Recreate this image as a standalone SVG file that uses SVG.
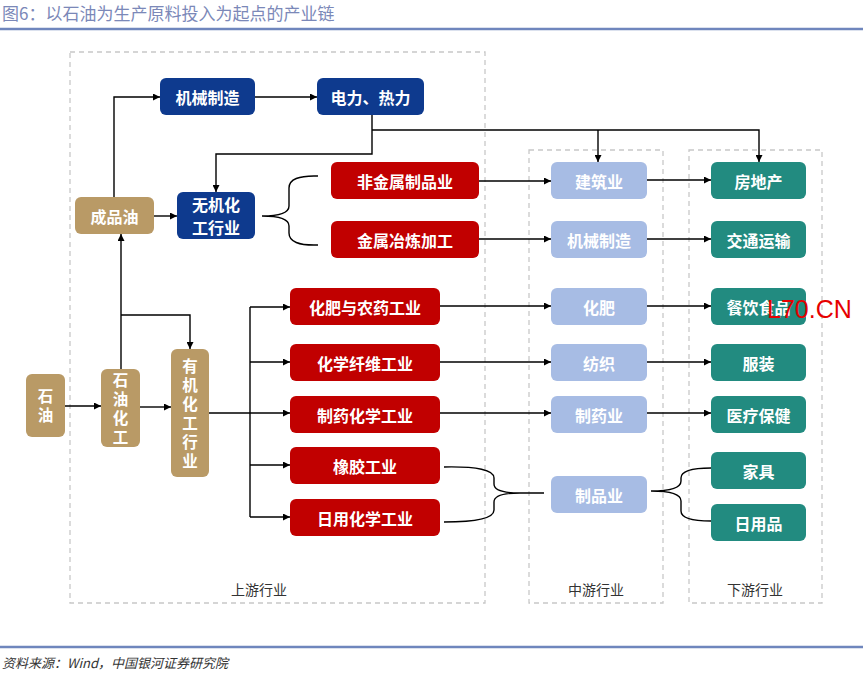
<svg xmlns="http://www.w3.org/2000/svg" width="863" height="675" viewBox="0 0 863 675">
<defs>
<marker id="ah" viewBox="0 0 10 10" refX="10" refY="5" markerWidth="7" markerHeight="7" orient="auto" markerUnits="userSpaceOnUse">
<path d="M0,0 L10,5 L0,10 z" fill="#000"/>
</marker>
<style>
.t{font-family:"Noto Sans CJK SC","Noto Sans",sans-serif;font-weight:bold;font-size:16px;fill:#fff;text-anchor:middle;dominant-baseline:central}
.v{font-family:"Noto Sans CJK SC","Noto Sans",sans-serif;font-weight:bold;font-size:15.5px;fill:#fff;text-anchor:middle;writing-mode:vertical-rl;letter-spacing:3.5px}
.blue{fill:#0e3a8e}
.tan{fill:#b99a66}
.red{fill:#c10000}
.lb{fill:#a7bce4}
.teal{fill:#228b80}
.dash{fill:none;stroke:#c8c8c8;stroke-width:1.3;stroke-dasharray:5,4}
.c{fill:none;stroke:#000;stroke-width:1.4}
.a{marker-end:url(#ah)}
.lbl{font-family:"Noto Sans CJK SC","Noto Sans",sans-serif;font-size:14px;fill:#333;text-anchor:middle}
</style>
</defs>
<rect width="863" height="675" fill="#fff"/>
<text x="2" y="20" font-family="Noto Sans CJK SC, Noto Sans, sans-serif" font-size="17" fill="#7b88b8">图6：以石油为生产原料投入为起点的产业链</text>
<line x1="0" y1="29" x2="863" y2="29" stroke="#6f86bd" stroke-width="2.5"/>
<line x1="0" y1="647" x2="863" y2="647" stroke="#6f86bd" stroke-width="2.5"/>
<text x="2" y="668" font-family="Noto Sans CJK SC, Noto Sans, sans-serif" font-size="13" font-style="italic" fill="#333">资料来源：Wind，中国银河证券研究院</text>

<g id="zones">
<rect class="dash" x="70" y="52" width="415" height="551"/>
<rect class="dash" x="529" y="150" width="134" height="453"/>
<rect class="dash" x="689" y="150" width="133" height="453"/>
<text class="lbl" x="259" y="595">上游行业</text>
<text class="lbl" x="596" y="595">中游行业</text>
<text class="lbl" x="755" y="595">下游行业</text>
</g>

<g id="connectors">
<path class="c a" d="M114,197 V97 H160"/>
<path class="c a" d="M255,97 H317"/>
<path class="c a" d="M372,115 V154 H216 V192"/>
<path class="c a" d="M372,130 H759 V162"/>
<path class="c a" d="M598,130 V162"/>
<path class="c a" d="M154,216 H177"/>
<path class="c" d="M318,176 Q289,175 289,188 V206 Q289,216 262,216 Q289,216 289,226 V233 Q289,246 318,245"/>
<path class="c a" d="M479,181 H551"/>
<path class="c a" d="M479,239 H551"/>
<path class="c a" d="M647,180 H711"/>
<path class="c a" d="M647,239 H711"/>
<path class="c a" d="M65,406 H101"/>
<path class="c a" d="M140,407 H171"/>
<path class="c a" d="M121,369 V234"/>
<path class="c a" d="M121,315 H190 V349"/>
<path class="c" d="M209,413 H250 M250,307 V517"/>
<path class="c a" d="M250,307 H290"/>
<path class="c a" d="M250,362 H290"/>
<path class="c a" d="M250,413 H290"/>
<path class="c a" d="M250,465 H290"/>
<path class="c a" d="M250,517 H290"/>
<path class="c a" d="M440,306 H551"/>
<path class="c a" d="M440,362 H551"/>
<path class="c a" d="M440,413 H551"/>
<path class="c a" d="M647,306 H711"/>
<path class="c a" d="M647,362 H711"/>
<path class="c a" d="M647,413 H711"/>
<path class="c" d="M444,467 Q494,466 494,478 V484 Q494,493 520,493 H544 M520,493 Q494,493 494,502 V510 Q494,522 444,522"/>
<path class="c" d="M651,491 Q681,491 681,481 V478 Q681,468 711,468 M651,491 Q681,491 681,501 V511 Q681,521 711,521"/>
</g>

<g id="n_jixie"><rect class="blue" x="160" y="78" width="95" height="37" rx="6"/><text class="t" x="207.5" y="97">机械制造</text></g>
<g id="n_dianli"><rect class="blue" x="317" y="78" width="107" height="37" rx="6"/><text class="t" x="370.5" y="97">电力、热力</text></g>
<g id="n_chengpinyou"><rect class="tan" x="75" y="197" width="79" height="37" rx="6"/><text class="t" x="114.5" y="216">成品油</text></g>
<g id="n_wuji"><rect class="blue" x="177" y="192" width="78" height="47" rx="6"/><text class="t" font-size="15"><tspan x="216" y="204">无机化</tspan><tspan x="216" y="227">工行业</tspan></text></g>
<g id="n_feijinshu"><rect class="red" x="331" y="162" width="148" height="37" rx="6"/><text class="t" x="405" y="181">非金属制品业</text></g>
<g id="n_jinshu"><rect class="red" x="331" y="221" width="148" height="37" rx="6"/><text class="t" x="405" y="240">金属冶炼加工</text></g>
<g id="n_jianzhu"><rect class="lb" x="551" y="162" width="96" height="37" rx="6"/><text class="t" x="599" y="181">建筑业</text></g>
<g id="n_jixie2"><rect class="lb" x="551" y="221" width="96" height="37" rx="6"/><text class="t" x="599" y="240">机械制造</text></g>
<g id="n_fangdichan"><rect class="teal" x="711" y="162" width="95" height="37" rx="6"/><text class="t" x="758.5" y="181">房地产</text></g>
<g id="n_jiaotong"><rect class="teal" x="711" y="221" width="95" height="37" rx="6"/><text class="t" x="758.5" y="240">交通运输</text></g>

<g id="n_shiyou"><rect class="tan" x="26" y="374" width="39" height="63" rx="6"/><text class="v" x="45.5" y="407.5">石油</text></g>
<g id="n_shiyouhuagong"><rect class="tan" x="101" y="369" width="39" height="78" rx="6"/><text class="v" x="120.5" y="410">石油化工</text></g>
<g id="n_youji"><rect class="tan" x="171" y="349" width="38" height="128" rx="6"/><text class="v" x="190" y="415">有机化工行业</text></g>

<g id="n_huafeinongyao"><rect class="red" x="290" y="288" width="150" height="37" rx="6"/><text class="t" x="365" y="307">化肥与农药工业</text></g>
<g id="n_xianwei"><rect class="red" x="290" y="344" width="150" height="37" rx="6"/><text class="t" x="365" y="363">化学纤维工业</text></g>
<g id="n_zhiyaohx"><rect class="red" x="290" y="396" width="150" height="37" rx="6"/><text class="t" x="365" y="415">制药化学工业</text></g>
<g id="n_xiangjiao"><rect class="red" x="290" y="447" width="150" height="37" rx="6"/><text class="t" x="365" y="466">橡胶工业</text></g>
<g id="n_riyonghx"><rect class="red" x="290" y="499" width="150" height="37" rx="6"/><text class="t" x="365" y="518">日用化学工业</text></g>

<g id="n_huafei"><rect class="lb" x="551" y="288" width="96" height="37" rx="6"/><text class="t" x="599" y="307">化肥</text></g>
<g id="n_fangzhi"><rect class="lb" x="551" y="344" width="96" height="37" rx="6"/><text class="t" x="599" y="363">纺织</text></g>
<g id="n_zhiyao"><rect class="lb" x="551" y="396" width="96" height="37" rx="6"/><text class="t" x="599" y="415">制药业</text></g>
<g id="n_zhipin"><rect class="lb" x="551" y="476" width="96" height="37" rx="6"/><text class="t" x="599" y="495">制品业</text></g>

<g id="n_canyin"><rect class="teal" x="711" y="288" width="95" height="37" rx="6"/><text class="t" x="758.5" y="307">餐饮食品</text></g>
<g id="n_fuzhuang"><rect class="teal" x="711" y="344" width="95" height="37" rx="6"/><text class="t" x="758.5" y="363">服装</text></g>
<g id="n_yiliao"><rect class="teal" x="711" y="396" width="95" height="37" rx="6"/><text class="t" x="758.5" y="415">医疗保健</text></g>
<g id="n_jiaju"><rect class="teal" x="711" y="452" width="95" height="37" rx="6"/><text class="t" x="758.5" y="471">家具</text></g>
<g id="n_riyongpin"><rect class="teal" x="711" y="504" width="95" height="37" rx="6"/><text class="t" x="758.5" y="523">日用品</text></g>

<text x="767" y="318" font-family="Liberation Sans, Arial, sans-serif" font-size="25" fill="#e60000">L70.CN</text>
</svg>
